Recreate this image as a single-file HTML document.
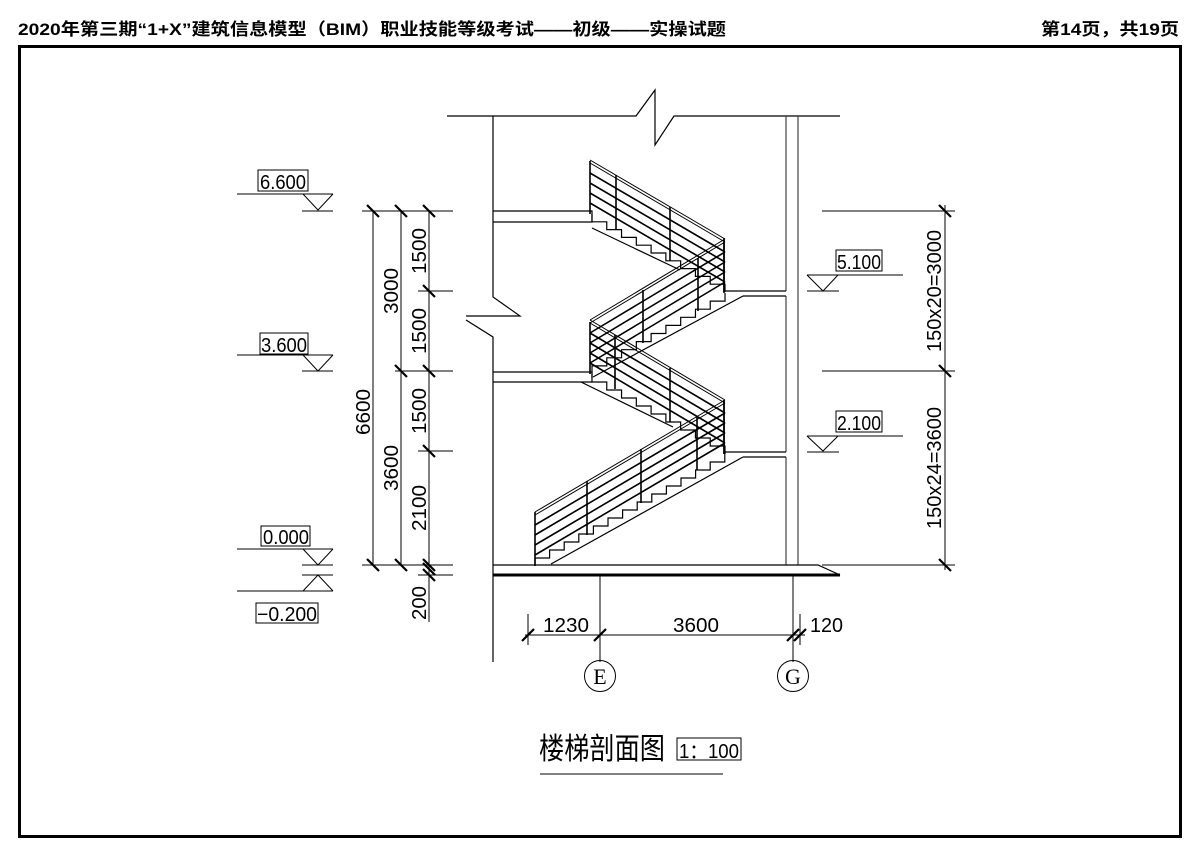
<!DOCTYPE html>
<html><head><meta charset="utf-8"><style>
html,body{margin:0;padding:0;background:#fff;width:1200px;height:850px;overflow:hidden}
svg{display:block}
.t{font-family:"Liberation Sans","Noto Sans CJK SC",sans-serif}
</style></head><body>
<svg width="1200" height="850" viewBox="0 0 1200 850" xmlns="http://www.w3.org/2000/svg">
<defs>
<path id="rD" d="M590,214 L725,293" />
<path id="rC" d="M590,374 L725,293" />
<path id="rB" d="M590,374 L725,454" />
<path id="rA" d="M535,566 L725,454" />
</defs>
<text class="t" x="18" y="35" font-size="17" font-weight="bold" textLength="708" lengthAdjust="spacingAndGlyphs">2020年第三期“1+X”建筑信息模型（BIM）职业技能等级考试——初级——实操试题</text>
<text class="t" x="1041" y="35" font-size="17" font-weight="bold" textLength="138" lengthAdjust="spacingAndGlyphs">第14页，共19页</text>
<rect x="19.5" y="46.5" width="1161" height="790" fill="none" stroke="#000" stroke-width="3"/>

<g stroke="#000" stroke-width="1.2" fill="none">
<!-- top line with break -->
<path d="M447,116 H636 L655,90 V145 L674,116 H840"/>
<!-- left wall -->
<path d="M493,116 V297 L520,316 H466 M466,320 L493,337 V662"/>
<!-- right walls -->
<path d="M786,116 V291 M786,296 V452 M786,457 V565" stroke="#444"/>
<path d="M798,116 V565" stroke="#444"/>
<!-- floor slabs -->
<path d="M493,211 H592 V218 M493,222 H592 V214"/>
<path d="M493,372 H592 V378 M493,382 H592"/>
<path d="M493,565 H818 L840,575"/>
<path d="M493,575 H840" stroke-width="3"/>
<!-- landings -->
<path d="M725,291 H786 M743,296 H786 M725,452 H786 M743,457 H786"/>
<!-- soffits -->
<path d="M592,228 L680,270 M743,296 L593,377 M581,382 L673,427 M743,457 L551,564"/>
<!-- steps -->
<path d="M725,292 v-7.8 h-14.78 v-7.8 h-14.78 v-7.8 h-14.78 v-7.8 h-14.78 v-7.8 h-14.78 v-7.8 h-14.78 v-7.8 h-14.78 v-7.8 h-14.78 v-7.8 h-14.78 v-7.8"/>
<path d="M592,374 v-8.1 h14.78 v-8.1 h14.78 v-8.1 h14.78 v-8.1 h14.78 v-8.1 h14.78 v-8.1 h14.78 v-8.1 h14.78 v-8.1 h14.78 v-8.1 h14.78 v-8.1"/>
<path d="M725,454 v-8 h-14.78 v-8 h-14.78 v-8 h-14.78 v-8 h-14.78 v-8 h-14.78 v-8 h-14.78 v-8 h-14.78 v-8 h-14.78 v-8 h-14.78 v-8"/>
<path d="M535,566 v-8 h14.6 v-8 h14.6 v-8 h14.6 v-8 h14.6 v-8 h14.6 v-8 h14.6 v-8 h14.6 v-8 h14.6 v-8 h14.6 v-8 h14.6 v-8 h14.6 v-8 h14.6 v-8 h14.6 v-8"/>
</g>
<!-- railings -->
<g stroke="#000" stroke-width="1.6" fill="none">
<use href="#rD" y="-54" stroke-width="1"/><use href="#rD" y="-51" stroke-width="1"/><use href="#rD" y="-41"/><use href="#rD" y="-31"/><use href="#rD" y="-21"/><use href="#rD" y="-11"/>
<use href="#rC" y="-54" stroke-width="1"/><use href="#rC" y="-51" stroke-width="1"/><use href="#rC" y="-41"/><use href="#rC" y="-31"/><use href="#rC" y="-21"/><use href="#rC" y="-11"/>
<use href="#rB" y="-54" stroke-width="1"/><use href="#rB" y="-51" stroke-width="1"/><use href="#rB" y="-41"/><use href="#rB" y="-31"/><use href="#rB" y="-21"/><use href="#rB" y="-11"/>
<use href="#rA" y="-54" stroke-width="1"/><use href="#rA" y="-51" stroke-width="1"/><use href="#rA" y="-41"/><use href="#rA" y="-31"/><use href="#rA" y="-21"/><use href="#rA" y="-11"/>
<!-- posts -->
<path d="M590,161 V214 M616,175 V229 M670,207 V261 M724,238 V292"/>
<path d="M590,322 V374 M643,290 V343 M698,258 V311 M724,240 V293"/>
<path d="M615,335 V389 M670,368 V422 M724,400 V454"/>
<path d="M535,512 V566 M587,481 V535 M641,449 V503 M697,416 V470 M724,400 V454"/>
</g>

<!-- left dimensions -->
<g stroke="#000" stroke-width="1" fill="none">
<path d="M373,211 V565 M401,211 V565 M429,211 V622"/>
<path d="M362,211 H453 M362,565 H453 M395,371 H453 M418,291 H453 M418,451 H453 M418,575 H453"/>
<g stroke-width="2.2">
<path d="M367,205 l12,12 M395,205 l12,12 M423,205 l12,12 M367,559 l12,12 M395,559 l12,12 M423,559 l12,12 M423,563 l12,12 M423,569 l12,12 M395,365 l12,12 M423,365 l12,12 M423,285 l12,12 M423,445 l12,12"/>
</g>
<!-- elevation markers left -->
<path d="M237,194 H333 M303,194 L318,210 L333,194 M302,211 H333"/>
<path d="M237,355 H333 M303,355 L318,371 L333,355 M302,371 H333"/>
<path d="M237,549 H333 M303,549 L318,565 L333,549 M302,565 H333"/>
<path d="M302,575 H333 M303,591 L318,575 L333,591 M237,591 H333"/>
<rect x="258" y="170" width="50" height="21"/>
<rect x="260" y="333" width="48" height="21"/>
<rect x="261" y="526" width="49" height="20"/>
<rect x="256" y="603" width="62" height="20"/>
<!-- right markers -->
<path d="M807,275 H903 M807,275 L823,291 L838,275 M807,291 H839"/>
<path d="M807,436 H903 M807,436 L823,451 L838,436 M807,452 H839"/>
<rect x="836" y="250" width="46" height="21"/>
<rect x="836" y="411" width="46" height="21"/>
<!-- right dims -->
<path d="M945,205 V570 M822,211 H955 M822,371 H955 M822,565 H955"/>
<path d="M939,205 l12,12 M939,365 l12,12 M939,559 l12,12" stroke-width="2.2"/>
<!-- bottom dims -->
<path d="M600,575 V662 M793,575 V662 M528,614 V645 M800,614 V645 M525,635 H805"/>
<path d="M522,641 l12,-12 M594,641 l12,-12 M787,641 l12,-12 M794,641 l12,-12" stroke-width="2.2"/>
<circle cx="600" cy="676" r="15.5"/>
<circle cx="793" cy="676" r="15.5"/>
<rect x="677" y="738" width="64" height="22"/>
<path d="M540,774 H723"/>
</g>

<g class="t" font-size="20" fill="#000">
<text x="260" y="189" textLength="46" lengthAdjust="spacingAndGlyphs">6.600</text>
<text x="261" y="352" textLength="46" lengthAdjust="spacingAndGlyphs">3.600</text>
<text x="263" y="544" textLength="46" lengthAdjust="spacingAndGlyphs">0.000</text>
<text x="257" y="621" textLength="60" lengthAdjust="spacingAndGlyphs">−0.200</text>
<text x="837" y="269" textLength="44" lengthAdjust="spacingAndGlyphs">5.100</text>
<text x="837" y="430" textLength="44" lengthAdjust="spacingAndGlyphs">2.100</text>
<text x="543" y="632" textLength="46" lengthAdjust="spacingAndGlyphs">1230</text>
<text x="673" y="632" textLength="46" lengthAdjust="spacingAndGlyphs">3600</text>
<text x="810" y="632" textLength="33" lengthAdjust="spacingAndGlyphs">120</text>
<text x="679" y="758" textLength="60" lengthAdjust="spacingAndGlyphs">1：100</text>
<text transform="translate(370,412) rotate(-90)" text-anchor="middle" textLength="46" lengthAdjust="spacingAndGlyphs">6600</text>
<text transform="translate(398,291) rotate(-90)" text-anchor="middle" textLength="46" lengthAdjust="spacingAndGlyphs">3000</text>
<text transform="translate(398,468) rotate(-90)" text-anchor="middle" textLength="46" lengthAdjust="spacingAndGlyphs">3600</text>
<text transform="translate(426,251) rotate(-90)" text-anchor="middle" textLength="46" lengthAdjust="spacingAndGlyphs">1500</text>
<text transform="translate(426,331) rotate(-90)" text-anchor="middle" textLength="46" lengthAdjust="spacingAndGlyphs">1500</text>
<text transform="translate(426,411) rotate(-90)" text-anchor="middle" textLength="46" lengthAdjust="spacingAndGlyphs">1500</text>
<text transform="translate(426,508) rotate(-90)" text-anchor="middle" textLength="46" lengthAdjust="spacingAndGlyphs">2100</text>
<text transform="translate(426,603) rotate(-90)" text-anchor="middle" textLength="34" lengthAdjust="spacingAndGlyphs">200</text>
<text transform="translate(941,291) rotate(-90)" text-anchor="middle" textLength="122" lengthAdjust="spacingAndGlyphs">150x20=3000</text>
<text transform="translate(941,468) rotate(-90)" text-anchor="middle" textLength="122" lengthAdjust="spacingAndGlyphs">150x24=3600</text>
</g>
<g font-family="Liberation Serif, serif" font-size="22" fill="#000" text-anchor="middle">
<text x="600" y="684">E</text>
<text x="793" y="684">G</text>
</g>
<text x="539" y="759" font-family="Liberation Sans, Noto Sans CJK SC, sans-serif" font-size="30" textLength="126" lengthAdjust="spacingAndGlyphs">楼梯剖面图</text>
</svg>
</body></html>
